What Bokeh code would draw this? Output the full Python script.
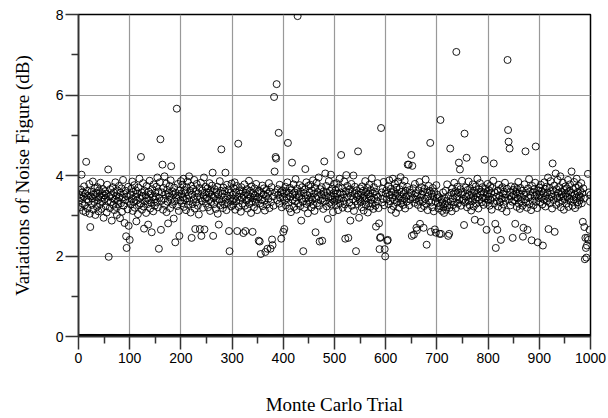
from bokeh.plotting import figure
from bokeh.models import ColumnDataSource, FixedTicker, Range1d
from bokeh.embed import file_html
from bokeh.resources import INLINE

# Noise figure variation (dB) per Monte Carlo trial (rows of 50 trials)
nf_1_250 = [
    3.38,3.52,3.21,3.65,3.44,4.02,3.31,3.58,3.12,3.47,3.73,3.26,3.55,3.09,4.34,3.41,3.62,3.18,3.50,3.36,3.79,3.05,2.72,3.48,3.60,3.27,3.43,3.85,3.15,3.53,3.34,3.68,3.02,3.46,3.57,3.22,3.71,3.39,3.11,3.63,3.49,3.29,3.82,3.45,3.17,3.56,3.35,3.66,2.95,3.51,
    3.42,3.61,3.24,3.55,3.08,3.77,3.36,4.15,1.98,3.48,3.19,3.66,3.33,3.52,2.88,3.44,3.71,3.27,3.58,3.14,3.40,3.83,3.22,3.50,3.02,3.63,3.37,3.29,3.74,3.46,2.94,3.57,3.31,3.68,3.10,3.45,3.89,3.25,3.54,2.82,3.39,3.62,2.49,2.20,3.48,3.16,3.72,2.75,3.35,2.40,
    3.53,3.28,3.67,3.41,3.85,3.12,3.59,3.34,3.76,3.20,3.47,3.63,2.86,3.38,3.55,3.04,3.70,3.26,3.92,3.44,3.31,4.46,3.58,3.15,3.49,3.81,3.23,2.68,3.62,3.36,3.51,3.07,3.74,3.43,3.29,2.78,3.60,3.39,3.87,3.18,3.54,3.32,2.59,3.66,3.46,3.11,3.78,3.40,3.25,3.57,
    3.48,3.72,3.33,3.95,3.21,3.60,2.18,3.44,3.83,4.90,2.65,3.37,3.58,4.27,3.15,3.69,3.42,3.98,3.27,3.53,3.80,3.09,3.64,3.35,2.81,3.56,3.47,3.74,3.19,3.88,4.23,3.40,3.61,3.28,3.52,2.93,3.70,3.36,2.34,3.57,3.45,5.66,3.24,3.79,3.50,3.12,2.50,3.63,3.38,3.86,
    3.55,3.31,3.77,3.46,3.92,3.22,3.64,3.39,3.58,3.14,3.71,3.43,3.85,3.27,3.50,3.98,3.36,3.62,3.08,3.74,2.45,3.53,3.29,3.67,3.41,3.89,3.18,2.67,3.60,3.34,3.79,3.47,3.25,3.56,3.03,3.69,2.67,3.44,3.82,2.50,3.37,3.63,3.20,3.51,3.95,2.66,3.42,3.72,3.30,3.58,
]
nf_251_500 = [
    3.45,3.68,3.21,3.57,3.39,3.81,3.12,3.63,3.34,3.52,3.75,4.07,2.50,3.44,3.29,3.66,3.48,3.17,3.59,3.37,3.72,3.05,3.53,2.78,3.41,3.86,3.26,3.62,4.65,3.35,3.55,3.19,3.70,3.46,3.28,3.61,4.07,3.40,3.14,3.77,3.50,3.32,3.65,2.62,2.12,3.43,3.58,3.23,3.80,3.36,
    3.52,3.27,3.69,3.41,3.83,3.15,3.58,3.36,3.74,2.62,3.47,4.79,3.22,3.63,3.39,3.55,3.10,3.71,3.44,3.30,3.60,2.57,3.49,3.78,3.25,2.62,3.57,3.38,3.66,3.18,3.53,3.42,3.87,3.29,3.62,3.47,3.07,3.73,3.35,2.60,3.56,3.44,3.21,3.68,3.50,3.33,3.79,3.40,3.14,3.59,
    3.46,2.38,3.62,2.36,3.31,2.05,3.57,3.40,3.75,3.24,3.53,3.68,3.37,3.13,2.10,3.49,3.64,3.28,2.18,3.55,3.42,3.81,3.19,3.60,2.18,3.34,3.71,2.41,2.27,3.48,3.25,5.95,4.10,3.58,4.46,4.42,6.27,3.39,3.66,3.52,5.06,3.30,3.77,3.44,3.58,2.43,3.21,3.63,3.47,2.60,
    3.55,2.67,3.38,3.72,3.26,3.61,3.44,3.83,4.81,3.33,3.57,3.18,3.69,3.47,3.09,3.64,4.32,3.40,3.53,3.78,3.22,3.58,3.36,3.91,3.45,3.15,3.67,7.96,3.31,3.54,3.48,3.76,3.24,3.60,2.88,3.42,3.71,3.35,2.12,3.56,3.20,3.65,4.16,3.43,3.83,3.29,3.51,3.06,3.74,3.39,
    3.58,3.34,3.77,3.46,3.21,3.63,3.40,3.88,3.27,3.55,3.12,3.69,2.59,3.44,3.82,3.31,3.59,3.48,3.95,3.25,2.36,3.66,3.38,3.53,3.71,2.38,3.43,3.17,3.61,4.35,3.36,4.05,3.50,3.74,3.23,3.57,2.92,3.45,3.86,3.32,3.62,3.49,4.02,3.28,3.67,3.40,3.09,3.56,3.79,3.35,
]
nf_501_750 = [
    3.47,3.63,3.26,3.81,3.39,3.55,3.14,3.70,3.42,3.92,3.31,3.58,4.51,3.44,3.68,3.20,3.53,3.37,3.85,3.28,2.43,3.61,4.01,3.46,3.74,3.18,2.45,3.57,3.33,3.66,2.88,3.49,3.79,3.25,3.60,3.41,4.00,3.12,3.54,3.72,3.36,2.12,3.63,3.47,3.29,4.60,3.52,2.95,3.40,3.68,
    3.34,3.57,3.21,3.73,3.45,3.62,3.13,3.50,3.38,3.86,3.27,3.59,3.43,3.69,3.08,3.54,3.31,3.77,3.48,3.22,3.64,3.40,3.93,3.30,3.56,3.17,3.71,3.44,3.60,3.25,2.73,3.52,3.36,3.81,3.47,3.19,2.81,2.17,2.45,2.47,5.18,3.58,3.33,3.67,3.42,3.84,3.26,2.17,1.99,3.55,
    3.63,3.41,2.38,2.40,3.74,3.29,3.88,3.52,3.36,3.67,3.15,3.58,3.45,3.92,3.24,3.61,3.39,3.80,3.50,3.07,3.70,3.33,3.56,3.85,3.43,3.20,3.66,3.48,3.96,3.31,3.59,3.38,3.75,3.27,3.54,3.42,3.87,3.18,3.62,3.47,3.35,3.72,4.27,3.51,4.27,3.26,3.64,3.40,3.57,4.51,
    2.50,4.24,3.45,3.68,2.53,3.32,3.79,3.41,3.56,2.70,2.64,3.50,3.27,3.63,3.37,3.84,2.80,3.46,3.19,3.71,3.53,3.35,3.60,2.70,3.24,3.67,3.42,3.90,3.30,2.28,3.58,3.14,3.49,3.74,3.38,3.62,4.81,2.60,3.33,3.55,3.21,3.69,3.47,3.11,3.59,2.66,3.36,2.58,3.76,3.44,
    3.52,3.31,3.18,3.46,2.55,3.24,5.38,2.55,3.40,3.12,3.33,3.58,3.21,3.07,3.44,3.29,3.62,3.15,3.37,3.78,3.26,2.50,3.49,2.55,3.20,4.67,3.35,3.57,3.11,3.68,3.43,3.27,3.55,3.82,3.34,3.61,3.19,7.07,3.48,3.72,3.30,3.58,4.32,3.40,4.15,3.66,3.25,3.53,3.87,3.38,
]
nf_751_1000 = [
    3.59,3.42,2.77,5.04,3.33,3.70,3.47,4.44,3.21,3.64,3.38,3.85,3.51,3.26,3.68,3.44,3.13,3.57,3.36,3.78,3.49,3.23,3.62,2.90,3.41,3.73,3.30,3.55,3.92,3.46,3.18,3.66,3.39,3.81,3.52,2.85,3.60,3.34,3.71,3.45,3.27,3.58,4.39,3.43,3.67,3.32,2.65,3.54,3.79,3.40,
    3.48,3.63,3.25,3.74,3.39,3.56,3.15,3.69,3.44,3.87,4.30,3.31,3.58,2.80,2.20,3.47,3.36,2.65,3.62,3.23,3.77,3.50,3.34,3.66,2.40,3.42,3.19,3.71,3.55,3.28,3.60,3.45,3.82,3.37,3.53,3.10,3.67,6.87,5.13,4.84,3.41,4.67,3.59,3.26,3.73,3.48,3.35,2.45,3.64,3.52,
    3.38,3.71,2.80,3.46,3.59,3.22,3.66,3.43,3.84,3.30,3.55,3.17,3.69,3.47,3.36,3.62,3.25,2.48,2.70,3.52,3.78,3.41,4.60,3.33,3.57,3.20,2.65,3.68,3.45,3.91,3.29,3.61,3.50,3.14,2.39,3.74,3.37,3.58,3.26,3.66,3.48,3.82,4.72,3.35,3.53,3.19,2.34,3.63,3.44,3.70,
    3.52,3.34,3.77,3.45,3.61,3.28,2.26,3.56,3.40,3.83,3.67,3.23,3.49,3.72,3.36,3.58,3.95,2.67,3.43,3.69,3.31,3.86,3.54,3.47,3.18,4.30,3.63,3.39,3.75,2.60,3.50,4.05,3.27,3.66,3.44,3.89,3.57,3.32,3.71,3.46,3.98,3.21,3.60,3.53,3.37,3.82,3.48,3.15,3.64,3.41,
    3.73,3.55,3.30,3.68,3.47,3.89,3.22,3.61,3.42,3.78,3.36,3.57,4.10,3.49,3.25,3.66,3.40,3.84,3.53,3.19,3.70,3.45,3.92,3.33,3.59,3.27,3.74,3.50,3.38,3.62,3.46,3.81,3.31,3.56,2.85,3.68,3.43,2.72,1.92,2.45,2.20,1.96,2.26,2.45,4.04,2.40,3.58,2.65,3.35,3.52,
]

noise_figure = nf_1_250 + nf_251_500 + nf_501_750 + nf_751_1000
trials = list(range(1, len(noise_figure) + 1))
baseline = [0.0] * len(trials)

x_ticks = [0, 100, 200, 300, 400, 500, 600, 700, 800, 900, 1000]
y_ticks = [0, 2, 4, 6, 8]
x_label = "Monte Carlo Trial"
y_label = "Variations of Noise Figure (dB)"

src = ColumnDataSource(dict(trial=trials, nf=noise_figure, zero=baseline))

p = figure(width=608, height=418, output_backend="svg", toolbar_location=None,
           x_range=Range1d(0, 1000), y_range=Range1d(0, 8),
           min_border_left=78, min_border_right=18, min_border_top=14, min_border_bottom=82)
p.background_fill_color = "white"
p.border_fill_color = "white"
p.outline_line_color = "black"
p.outline_line_width = 1.5

p.xaxis.ticker = FixedTicker(ticks=x_ticks, minor_ticks=[50, 150, 250, 350, 450, 550, 650, 750, 850, 950])
p.yaxis.ticker = FixedTicker(ticks=y_ticks, minor_ticks=[1, 3, 5, 7])
p.xgrid.ticker = FixedTicker(ticks=x_ticks)
p.ygrid.ticker = FixedTicker(ticks=y_ticks)
p.grid.grid_line_color = "#999999"
p.grid.grid_line_width = 1.2

for ax in (p.xaxis, p.yaxis):
    ax.axis_line_color = "#333333"
    ax.axis_line_width = 1.5
    ax.major_tick_line_color = "#333333"
    ax.minor_tick_line_color = "#333333"
    ax.major_tick_line_width = 1.5
    ax.minor_tick_line_width = 1.5
    ax.major_tick_in = 0
    ax.minor_tick_in = 0
    ax.major_tick_out = 13
    ax.minor_tick_out = 7
    ax.major_label_text_font = "Liberation Sans"
    ax.major_label_text_font_size = "14px"
    ax.major_label_text_color = "black"
    ax.axis_label_text_font = "Liberation Serif"
    ax.axis_label_text_font_size = "19px"
    ax.axis_label_text_font_style = "normal"
    ax.axis_label_text_color = "black"

p.xaxis.axis_label = x_label
p.yaxis.axis_label = y_label
p.xaxis.major_label_standoff = 3
p.yaxis.major_label_standoff = 2
p.xaxis.axis_label_standoff = 28
p.yaxis.axis_label_standoff = 20

p.scatter("trial", "zero", source=src, size=4, marker="circle",
          fill_color="black", line_color="black", line_width=1)
p.scatter("trial", "nf", source=src, size=7, marker="circle",
          fill_color=None, line_color="black", line_width=0.9)

open("out.html", "w").write(file_html(p, INLINE))
